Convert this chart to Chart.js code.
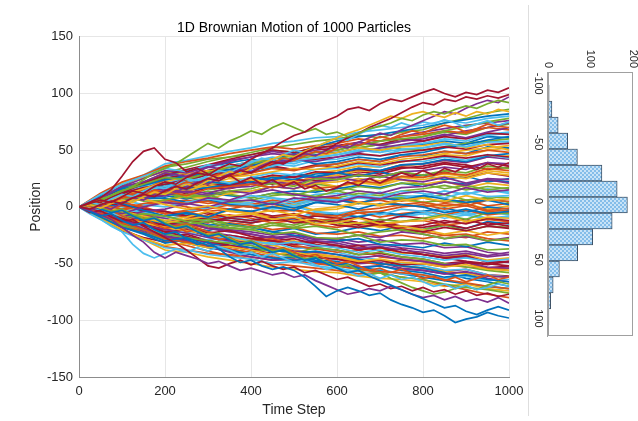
<!DOCTYPE html>
<html><head><meta charset="utf-8">
<script src="https://cdn.jsdelivr.net/npm/chart.js@4.4.1/dist/chart.umd.min.js"></script>
<style>
html,body{margin:0;padding:0;background:#fff;overflow:hidden}
#wrap{position:relative;width:638px;height:421px;overflow:hidden;background:#fff}
#main{position:absolute;left:0;top:0}
#hist{position:absolute;left:528px;top:32px;transform-origin:0 0;transform:translate(130px,0) rotate(90deg)}
#sep{position:absolute;left:528px;top:5px;width:1px;height:411px;background:#dedede;z-index:2}
</style></head><body>
<div id="wrap"><canvas id="main" width="638" height="421"></canvas><div id="sep"></div><canvas id="hist" width="340" height="130"></canvas></div>
<script>
// ---------- data ----------
const stepsFine = [0,25,50,75,100,125,150,175,200,225,250,275,300,325,350,375,400,425,450,475,500,525,550,575,600,625,650,675,700,725,750,775,800,825,850,875,900,925,950,975,1000];
const stepsCoarse = [0,50,100,150,200,250,300,350,400,450,500,550,600,650,700,750,800,850,900,950,1000];
const xTicks = [0,200,400,600,800,1000];
const yTicks = [-150,-100,-50,0,50,100,150];
const lineColors = ['#0072BD','#D95319','#EDB120','#7E2F8E','#77AC30','#4DBEEE','#A2142F'];

// outer (extreme) particle paths, sampled every 25 steps
const outerPaths = [
 [0,3,6,4,9,14,12,18,22,20,26,30,28,34,38,36,42,47,52,58,63,66,72,76,80,86,88,85,91,95,93,97,101,104,100,97,101,99,103,101,105],
 [0,4,8,15,27,40,49,52,42,39,31,34,29,25,28,22,26,20,24,18,22,16,19,14,17,22,19,25,21,26,30,27,32,28,34,31,36,33,38,35,39],
 [0,3,7,10,14,18,24,30,34,38,44,50,56,52,58,62,67,64,70,74,70,66,69,64,66,62,65,69,71,74,78,76,81,84,82,86,89,87,91,94,92],
 [0,-2,2,5,3,8,11,9,14,18,16,21,25,23,28,32,30,35,40,38,43,48,52,50,56,61,65,70,74,78,83,88,92,90,95,93,97,95,98,96,99],
 [0,2,-1,3,6,4,9,13,11,16,20,18,23,27,31,29,34,38,42,46,44,49,53,57,61,65,68,72,76,80,78,82,84,81,79,83,80,84,82,86,84],
 [0,-3,1,-2,4,8,6,11,15,13,18,22,20,25,29,33,31,36,40,38,43,47,45,50,54,52,57,61,65,63,68,72,76,80,84,82,87,91,94,92,97],
 [0,4,2,7,11,9,14,18,16,21,25,23,28,32,30,35,39,43,41,46,50,48,53,57,61,59,64,68,72,70,74,71,75,73,77,74,70,73,76,72,75],
 [0,-4,-8,-6,-12,-16,-14,-20,-24,-22,-28,-33,-31,-37,-44,-49,-47,-52,-55,-53,-56,-62,-70,-79,-74,-71,-74,-78,-76,-82,-86,-89,-93,-91,-96,-102,-99,-97,-93,-96,-98],
 [0,2,-2,-5,-3,-8,-12,-10,-15,-19,-17,-22,-26,-24,-29,-33,-31,-36,-40,-38,-43,-47,-45,-50,-54,-58,-56,-61,-65,-69,-73,-77,-81,-85,-89,-87,-92,-95,-91,-88,-91],
 [0,-3,-7,-11,-18,-25,-31,-40,-45,-40,-43,-46,-50,-48,-52,-56,-54,-57,-60,-58,-62,-60,-65,-69,-73,-77,-75,-72,-74,-70,-73,-77,-80,-78,-82,-79,-83,-81,-84,-80,-85],
 [0,-5,-3,-9,-13,-11,-17,-22,-27,-32,-38,-45,-52,-54,-50,-47,-51,-48,-52,-55,-53,-58,-56,-60,-64,-62,-66,-70,-68,-72,-70,-74,-71,-75,-73,-77,-74,-78,-76,-79,-77],
 [0,-6,-11,-17,-22,-33,-41,-45,-41,-37,-40,-36,-39,-35,-38,-42,-40,-44,-41,-45,-49,-47,-51,-55,-53,-57,-61,-59,-63,-60,-64,-62,-66,-70,-68,-72,-69,-73,-71,-68,-70],
 [0,3,-1,-4,-2,-7,-11,-9,-14,-18,-16,-21,-25,-23,-28,-32,-30,-35,-39,-37,-42,-46,-44,-49,-53,-51,-56,-60,-58,-63,-67,-71,-74,-77,-75,-72,-70,-73,-69,-66,-68],
 [0,2,6,3,8,12,10,15,13,18,22,20,25,29,27,32,36,34,39,43,41,45,49,47,52,56,54,58,62,60,64,67,65,69,72,70,66,69,73,71,70],
 [0,-2,-6,-3,-8,-12,-10,-15,-19,-17,-22,-20,-25,-29,-27,-32,-30,-34,-38,-36,-40,-44,-42,-46,-50,-48,-52,-56,-54,-58,-55,-59,-63,-61,-65,-62,-66,-63,-60,-64,-62]
];
const outerColors = ['#A2142F','#A2142F','#77AC30','#A2142F','#EDB120','#7E2F8E','#4DBEEE','#0072BD','#0072BD','#7E2F8E','#A2142F','#4DBEEE','#77AC30','#D95319','#D95319'];

// wide-spreading particle paths, sampled every 50 steps
const widePaths = [
 [0,8,18,22,30,27,35,40,44,49,46,50,52,57,54,58,60,64,61,66,70],
 [0,6,14,20,26,24,30,35,38,42,45,48,50,54,58,60,62,67,71,75,78],
 [0,11,20,27,34,31,37,36,40,44,41,43,46,50,48,51,52,56,53,57,58],
 [0,4,12,21,28,33,37,42,46,50,48,52,54,57,55,60,58,62,60,65,64],
 [0,9,16,19,24,27,30,33,36,42,47,53,58,62,64,67,70,74,77,80,82],
 [0,12,22,28,36,40,43,47,50,53,51,54,56,60,58,62,64,67,65,70,68],
 [0,3,10,16,22,27,31,36,40,43,46,45,48,52,50,53,54,57,52,55,50],
 [0,7,18,25,32,30,35,33,36,39,42,40,44,48,52,55,58,63,67,70,74],
 [0,5,15,22,30,35,40,44,48,52,55,58,60,63,61,66,68,74,78,83,86],
 [0,9,20,28,38,41,45,49,52,56,58,61,62,66,68,70,72,76,74,78,80],
 [0,7,12,17,20,24,28,31,34,38,41,42,44,47,45,48,50,53,51,55,56],
 [0,10,17,22,28,32,35,39,42,40,43,38,40,44,42,46,48,52,55,59,62],
 [0,2,8,15,24,26,29,27,30,34,32,36,38,42,40,44,46,49,47,50,48],
 [0,11,21,26,31,29,32,26,28,31,34,33,36,40,38,42,44,47,50,52,54],
 [0,6,13,20,27,31,36,41,44,47,45,48,50,55,58,62,66,69,72,74,76],
 [0,8,19,27,35,38,42,44,46,50,48,52,54,52,55,51,50,53,56,58,60],
 [0,4,9,14,18,22,26,29,32,36,40,43,46,49,52,54,56,59,61,63,65],
 [0,8,16,20,25,29,32,35,38,36,33,37,35,39,37,40,42,45,43,46,44],
 [0,-9,-18,-23,-30,-27,-34,-38,-42,-45,-47,-48,-50,-54,-52,-56,-58,-62,-60,-64,-66],
 [0,-7,-14,-20,-28,-31,-34,-37,-40,-44,-47,-50,-52,-55,-57,-58,-60,-64,-67,-70,-72],
 [0,-10,-20,-28,-34,-32,-36,-35,-38,-42,-40,-43,-44,-48,-46,-49,-50,-53,-51,-55,-56],
 [0,-5,-12,-19,-26,-30,-35,-40,-44,-47,-46,-49,-50,-53,-52,-55,-56,-59,-57,-61,-62],
 [0,-8,-16,-20,-24,-27,-30,-32,-34,-40,-44,-49,-52,-55,-58,-62,-64,-68,-71,-73,-76],
 [0,-11,-22,-29,-36,-38,-42,-44,-46,-50,-48,-52,-54,-57,-55,-59,-60,-63,-61,-65,-64],
 [0,-4,-10,-16,-22,-26,-30,-34,-38,-41,-43,-44,-46,-49,-47,-51,-50,-53,-49,-51,-48],
 [0,-8,-18,-24,-32,-29,-34,-32,-36,-38,-41,-39,-42,-46,-50,-52,-54,-58,-63,-66,-70],
 [0,-6,-15,-23,-30,-34,-39,-43,-46,-50,-52,-54,-56,-59,-58,-62,-64,-69,-73,-77,-80],
 [0,-10,-20,-29,-38,-40,-44,-47,-50,-53,-55,-57,-58,-61,-63,-64,-66,-70,-68,-72,-74],
 [0,-6,-12,-16,-20,-23,-27,-30,-32,-36,-39,-40,-42,-45,-43,-46,-48,-51,-49,-53,-54],
 [0,-9,-17,-23,-28,-31,-35,-38,-40,-37,-41,-36,-38,-42,-40,-44,-46,-50,-53,-56,-58],
 [0,-3,-8,-16,-24,-27,-29,-26,-30,-33,-31,-34,-36,-40,-38,-42,-44,-47,-45,-48,-46],
 [0,-10,-21,-27,-31,-28,-30,-25,-28,-30,-33,-31,-34,-38,-36,-40,-42,-45,-48,-50,-52],
 [0,-7,-13,-20,-27,-32,-36,-39,-42,-45,-44,-47,-48,-53,-56,-59,-62,-65,-68,-70,-72],
 [0,-9,-19,-28,-35,-38,-41,-42,-44,-47,-46,-49,-50,-48,-51,-47,-48,-51,-53,-54,-56],
 [0,-3,-9,-14,-18,-21,-24,-28,-30,-34,-38,-41,-44,-47,-50,-52,-54,-57,-59,-61,-62],
 [0,-7,-16,-21,-25,-28,-31,-34,-36,-34,-31,-35,-34,-37,-35,-38,-40,-43,-41,-44,-42]
];

// inner particle paths, sampled every 50 steps
const innerPaths = [
 [0,5,12,14,20,17,24,27,30,35,33,36,38,42,40,46,45,49,47,53,52],
 [0,-6,-8,-14,-18,-15,-22,-27,-30,-28,-34,-37,-40,-38,-44,-46,-48,-52,-49,-55,-54],
 [0,3,5,7,2,-2,1,-4,-6,-3,-7,-2,0,4,2,6,8,5,10,6,7],
 [0,-4,-6,0,4,2,8,6,12,15,11,8,10,14,12,17,18,22,19,24,21],
 [0,-5,-10,-6,-8,-13,-11,-16,-18,-14,-19,-17,-20,-25,-22,-20,-24,-28,-25,-30,-28],
 [0,7,14,12,22,19,25,21,26,30,28,33,34,38,35,41,40,44,41,46,43],
 [0,-7,-12,-15,-20,-17,-23,-21,-26,-30,-28,-33,-36,-34,-39,-37,-42,-45,-43,-49,-48],
 [0,4,3,-3,-8,-5,-9,-2,-4,0,-3,4,2,-2,3,2,0,-5,-2,-6,-4],
 [0,2,8,11,14,10,16,18,20,17,22,16,18,23,21,27,26,30,28,34,32],
 [0,1,-4,-8,-12,-9,-4,-8,-6,-11,-9,-15,-14,-10,-15,-13,-12,-8,-13,-9,-10],
 [0,-5,-9,-4,-2,3,0,5,6,2,8,6,4,9,7,12,14,11,17,13,15],
 [0,6,10,5,6,11,9,14,16,21,18,25,24,28,26,31,28,32,30,36,34],
 [0,-6,-14,-17,-24,-22,-27,-31,-34,-31,-37,-35,-40,-44,-47,-50,-52,-56,-55,-60,-62],
 [0,3,2,-2,-4,-8,-5,-10,-12,-9,-14,-12,-16,-18,-15,-20,-22,-18,-21,-17,-19],
 [0,8,16,21,28,26,32,36,40,38,44,46,48,52,50,54,55,58,56,62,61],
 [0,2,-2,3,6,3,5,1,0,-4,-2,-7,-8,-3,-1,2,4,1,3,-3,-1],
 [0,-3,-7,-10,-14,-11,-8,-3,-6,-10,-13,-11,-16,-14,-18,-17,-20,-24,-21,-25,-22],
 [0,5,11,13,16,13,10,14,12,18,16,22,24,28,26,31,32,35,33,39,38],
 [0,-4,-5,-9,-12,-15,-13,-18,-20,-24,-22,-27,-28,-25,-31,-29,-30,-34,-33,-38,-37],
 [0,3,6,2,0,4,7,5,10,8,3,7,6,10,8,14,12,8,13,9,10],
 [0,-6,-11,-13,-16,-12,-14,-9,-8,-12,-10,-15,-12,-16,-14,-18,-16,-12,-15,-10,-12],
 [0,4,9,13,18,16,22,20,26,24,29,27,30,34,32,37,38,42,40,45,47],
 [0,-1,-3,2,4,0,-4,-2,-6,-9,-7,-12,-10,-5,-4,0,2,-2,1,-4,-3],
 [0,-5,-10,-14,-20,-18,-24,-26,-28,-32,-30,-35,-34,-37,-36,-41,-40,-44,-42,-47,-45],
 [0,7,13,9,10,14,12,17,18,22,20,25,26,23,27,24,22,26,21,25,24],
 [0,-2,-6,-10,-14,-12,-17,-19,-20,-16,-18,-13,-12,-15,-11,-13,-10,-7,-11,-5,-6],
 [0,6,12,18,24,22,29,32,36,40,38,44,46,50,48,54,56,60,58,64,66],
 [0,-8,-15,-19,-26,-24,-30,-35,-38,-36,-41,-42,-44,-48,-47,-52,-54,-57,-55,-60,-61],
 [0,2,4,7,8,4,6,2,0,3,-1,4,6,3,8,6,10,7,4,6,2],
 [0,-3,1,-2,-6,-4,-9,-7,-10,-14,-12,-16,-18,-15,-17,-13,-12,-16,-14,-11,-13],
 [0,5,8,12,16,14,20,22,24,21,19,22,18,21,20,26,24,27,25,30,28],
 [0,-6,-12,-8,-10,-15,-17,-20,-22,-25,-23,-28,-28,-25,-27,-22,-24,-28,-26,-30,-27],
 [0,3,7,10,12,8,11,4,6,10,12,9,14,18,16,21,20,16,19,15,17],
 [0,1,-2,-5,-8,-4,-1,3,2,-2,0,-4,-6,-3,-7,-2,-4,-8,-5,-10,-8],
 [0,4,10,13,18,16,21,19,24,28,26,31,30,33,31,35,34,38,35,39,36],
 [0,-4,-8,-12,-14,-11,-16,-15,-18,-22,-25,-27,-30,-28,-33,-34,-36,-32,-35,-31,-34],
 [0,3,4,0,-6,-3,0,-2,2,6,4,9,8,4,6,2,0,3,1,6,5],
 [0,-3,-5,1,6,9,7,12,14,18,16,21,22,25,23,27,26,29,27,32,30],
 [0,-4,-9,-12,-16,-14,-19,-21,-24,-28,-26,-31,-30,-34,-33,-36,-38,-41,-39,-43,-40],
 [0,4,6,9,12,10,14,11,8,12,10,15,14,10,7,8,4,6,3,9,8],
 [0,6,13,17,22,25,28,31,34,38,36,41,42,46,45,50,52,55,53,58,57],
 [0,-5,-8,-3,-4,-8,-11,-12,-14,-11,-13,-8,-10,-14,-13,-17,-18,-15,-19,-14,-17],
 [0,3,2,-4,-8,-6,-11,-12,-14,-10,-12,-8,-6,-9,-5,-7,-4,-1,-5,0,-2],
 [0,-2,-6,-12,-18,-15,-19,-14,-16,-20,-18,-23,-24,-22,-26,-25,-28,-25,-27,-22,-24],
 [0,7,13,16,18,22,20,25,24,21,23,17,18,22,19,24,20,23,17,21,19],
 [0,-7,-15,-22,-28,-26,-32,-35,-38,-42,-40,-45,-46,-50,-49,-54,-56,-59,-58,-63,-66],
 [0,4,10,18,26,24,30,33,36,40,42,45,48,52,55,58,62,66,64,70,73],
 [0,-2,-4,2,6,3,7,4,2,5,1,6,4,8,6,9,10,14,11,15,12],
 [0,-4,-6,-10,-14,-11,-7,-3,-4,-8,-6,-11,-12,-9,-13,-8,-10,-14,-11,-16,-14],
 [0,1,6,8,12,15,17,20,22,26,24,29,30,27,31,26,28,24,27,22,25],
 [0,3,4,-1,-6,-9,-8,-12,-14,-11,-13,-7,-10,-14,-16,-19,-22,-25,-24,-28,-30],
 [0,5,8,11,14,10,8,4,2,-1,2,-3,-2,3,1,6,4,0,3,-2,1],
 [0,8,14,19,24,21,25,19,20,24,27,26,30,34,32,37,38,41,39,44,42],
 [0,-5,-10,-6,-8,-12,-10,-15,-18,-14,-16,-11,-14,-18,-16,-21,-20,-16,-21,-17,-18],
 [0,-3,-4,1,6,3,8,2,4,8,6,11,12,9,13,8,10,14,11,16,13],
 [0,-7,-14,-17,-22,-20,-26,-29,-32,-30,-35,-37,-38,-42,-41,-44,-46,-50,-48,-54,-52],
 [0,-1,3,7,10,7,12,10,8,12,14,13,16,19,17,21,18,22,20,24,22],
 [0,-1,-4,-7,-8,-5,-2,2,0,-4,-3,-6,-8,-5,-9,-6,-4,-7,-3,-7,-5],
 [0,5,8,10,12,16,18,22,24,27,26,30,32,36,35,40,42,46,45,50,52],
 [0,-6,-10,-13,-16,-14,-19,-22,-24,-27,-25,-29,-28,-31,-29,-33,-32,-36,-35,-40,-42],
 [0,6,12,15,20,18,16,13,14,18,16,20,18,14,12,10,8,11,6,8,4],
 [0,1,-3,-6,-10,-8,-13,-10,-12,-8,-10,-5,-6,-9,-4,-8,-6,-10,-7,-11,-9],
 [0,5,10,13,16,14,19,18,22,20,24,23,26,29,27,30,28,31,26,30,27],
 [0,-8,-12,-17,-20,-18,-21,-16,-18,-22,-19,-24,-22,-18,-21,-17,-20,-16,-19,-13,-15],
 [0,2,-2,1,4,6,3,5,2,0,4,7,6,3,8,5,8,4,6,1,3],
 [0,2,6,11,16,14,19,17,20,24,22,26,28,32,31,36,38,41,40,44,45],
 [0,-3,-6,-11,-16,-19,-22,-25,-28,-26,-31,-30,-32,-36,-35,-40,-42,-45,-44,-48,-49],
 [0,1,4,8,12,8,5,2,0,4,2,6,8,12,10,14,16,19,15,18,16],
 [0,3,0,-4,-8,-6,-10,-9,-12,-9,-11,-7,-10,-8,-5,-9,-6,-3,-7,-4,-7],
 [0,-2,5,9,14,12,17,16,20,24,22,26,28,31,29,34,36,39,37,33,35]
];

// histogram of final positions (15 bins)
const histCenters = [-92.1,-78.4,-64.8,-51.2,-37.6,-23.9,-10.3,3.3,17.0,30.6,44.2,57.9,71.5,85.1,98.7];
const histCounts  = [3,9,24,46,69,127,163,187,151,105,70,27,12,6,2];
const histPosTicks = [-100,-50,0,50,100];
const histCountTicks = [0,100,200];

// ---------- drawing ----------
const FONT = "'Liberation Sans', Arial, Helvetica, sans-serif";
const TXT = '#262626';

function pathDataset(xs, ys, color) {
  return { data: ys.map((y, k) => ({ x: xs[k], y: y })), borderColor: color, borderWidth: 1.7,
           pointRadius: 0, fill: false, tension: 0 };
}
const datasets = [];
outerPaths.forEach((p, i) => datasets.push(pathDataset(stepsFine, p, outerColors[i])));
widePaths.forEach((p, i) => datasets.push(pathDataset(stepsCoarse, p, lineColors[(i + 3) % lineColors.length])));
innerPaths.forEach((p, i) => datasets.push(pathDataset(stepsCoarse, p, lineColors[i % lineColors.length])));

new Chart(document.getElementById('main'), {
  type: 'line',
  data: { datasets: datasets },
  options: {
    responsive: false, animation: false, events: [],
    layout: { padding: { left: 0, right: 129, top: 0, bottom: 0 } },
    plugins: {
      legend: { display: false }, tooltip: { enabled: false },
      title: { display: true, text: '1D Brownian Motion of 1000 Particles', fullSize: false, color: '#000',
               font: { family: FONT, size: 14, weight: 'normal' }, padding: { top: 20, bottom: 0 } }
    },
    scales: {
      x: { type: 'linear', min: 0, max: 1000,
           afterBuildTicks: s => { s.ticks = xTicks.map(v => ({ value: v })); },
           afterFit: s => { s.height = 44; },
           grid: { color: '#e6e6e6', drawTicks: false }, border: { color: '#8c8c8c' },
           ticks: { color: TXT, font: { family: FONT, size: 13 }, padding: 7, maxRotation: 0, callback: v => String(v) },
           title: { display: true, text: 'Time Step', color: TXT, font: { family: FONT, size: 14 }, padding: { top: 0, bottom: 2 } } },
      y: { type: 'linear', min: -150, max: 150,
           afterBuildTicks: s => { s.ticks = yTicks.map(v => ({ value: v })); },
           afterFit: s => { s.width = 79; },
           grid: { color: '#e6e6e6', drawTicks: false }, border: { color: '#8c8c8c' },
           ticks: { color: TXT, font: { family: FONT, size: 13 }, padding: 6, callback: v => String(v) },
           title: { display: true, text: 'Position', color: TXT, font: { family: FONT, size: 14 }, padding: { top: 28, bottom: 0 } } }
    }
  }
});

function makePattern() {
  const c = document.createElement('canvas'); c.width = 4; c.height = 4;
  const g = c.getContext('2d');
  g.fillStyle = '#c8e3f7'; g.fillRect(0, 0, 4, 4);
  g.fillStyle = '#84bde9'; g.fillRect(0, 0, 2, 2); g.fillRect(2, 2, 2, 2);
  return g.createPattern(c, 'repeat');
}
const boxPlugin = { id: 'box', afterDraw(c) {
  const { ctx, chartArea: a } = c;
  ctx.save(); ctx.strokeStyle = '#a0a0a0'; ctx.lineWidth = 1;
  ctx.strokeRect(Math.round(a.left) + 0.5, Math.round(a.top) + 0.5, Math.round(a.right - a.left) - 1, Math.round(a.bottom - a.top) - 1);
  ctx.restore();
} };

new Chart(document.getElementById('hist'), {
  type: 'bar',
  data: { datasets: [{ data: histCenters.map((c, i) => ({ x: c, y: histCounts[i] })),
     backgroundColor: makePattern(), borderColor: '#3e5368', borderWidth: 1,
     barPercentage: 1, categoryPercentage: 1 }] },
  options: {
    responsive: false, animation: false, events: [],
    layout: { padding: { left: 0, right: 36, top: 25, bottom: 0 } },
    plugins: { legend: { display: false }, tooltip: { enabled: false } },
    scales: {
      x: { type: 'linear', min: -110, max: 115, offset: false,
           afterBuildTicks: s => { s.ticks = histPosTicks.map(v => ({ value: v })); },
           afterFit: s => { s.height = 20; },
           grid: { display: false, drawTicks: false }, border: { display: true, color: '#a0a0a0' },
           ticks: { color: TXT, font: { family: FONT, size: 11 }, padding: 3, maxRotation: 0, minRotation: 0, callback: v => String(v) } },
      y: { type: 'linear', min: 0, max: 200,
           afterBuildTicks: s => { s.ticks = histCountTicks.map(v => ({ value: v })); },
           afterFit: s => { s.width = 40; },
           grid: { display: false, drawTicks: false }, border: { display: true, color: '#a0a0a0' },
           ticks: { color: TXT, font: { family: FONT, size: 11 }, padding: 4 } }
    }
  },
  plugins: [boxPlugin]
});
</script>
</body></html>
